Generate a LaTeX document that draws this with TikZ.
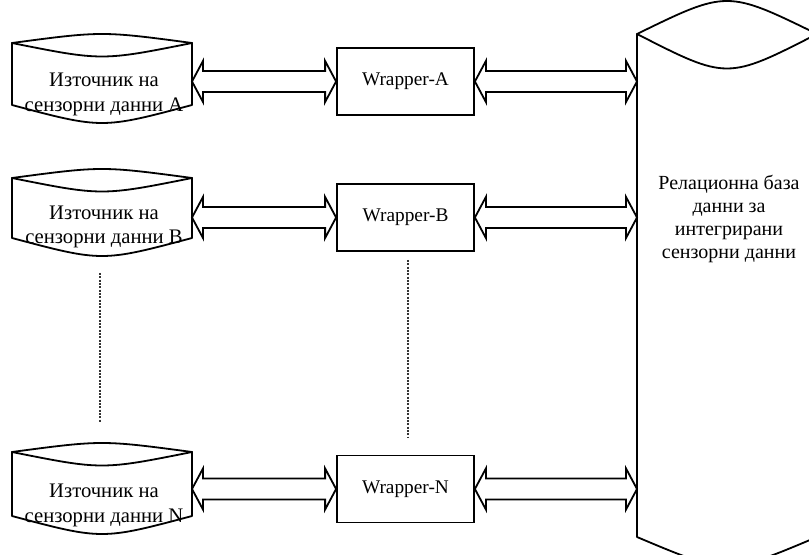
\documentclass[tikz,border=0pt]{standalone}
\usepackage{fontspec}
\setmainfont{Liberation Serif}
\usetikzlibrary{calc}

\tikzset{
  outline/.style={draw=black, line width=1.35pt, line join=miter},
  curveline/.style={draw=black, line width=1.35pt, line join=round, line cap=round},
  wrapbox/.style={outline, fill=white, rectangle, minimum width=102.75pt,
    minimum height=50.25pt, inner sep=0pt, font=\fontsize{14.5pt}{17pt}\selectfont},
  srctext/.style={align=center, inner sep=0pt, font=\fontsize{15.5pt}{18.5pt}\selectfont},
  dbtext/.style={align=center, inner sep=0pt, font=\fontsize{15pt}{17.3pt}\selectfont},
  linkbody/.style={outline, fill=white},
  dotline/.style={draw=black!80, line width=1.2pt, dash pattern=on 1.4pt off 1.1pt}
}

% drum-like data source: lens-shaped top, curved bottom; #1 name, (#2,#3) top-left corner, #4 side height
\newcommand\sourcedrum[4]{%
  \draw[curveline] (#2,#3) .. controls (#2+90,#3-12) .. (#2+180,#3);
  \draw[curveline] (#2,#3) .. controls (#2+90,#3+18) .. (#2+180,#3);
  \draw[curveline] (#2,#3) -- (#2,#3+#4) .. controls (#2+90,#3+#4+24) .. (#2+180,#3+#4) -- (#2+180,#3);
  \coordinate (#1-e) at (#2+180,#3+#4/2);
}

% hollow two-headed arrow between two points on the same level
\newcommand\twowayarrow[2]{%
  \draw[linkbody] let \p1=(#1), \p2=(#2) in
    (\x1,\y1) -- (\x1+8.25pt,\y1+15.4pt) -- (\x1+8.25pt,\y1+7.9pt)
    -- (\x2-8.25pt,\y1+7.9pt) -- (\x2-8.25pt,\y1+15.4pt) -- (\x2,\y1)
    -- (\x2-8.25pt,\y1-15.4pt) -- (\x2-8.25pt,\y1-7.9pt)
    -- (\x1+8.25pt,\y1-7.9pt) -- (\x1+8.25pt,\y1-15.4pt) -- cycle;
}

\begin{document}
\begin{tikzpicture}[x=0.75pt,y=-0.75pt]
  \useasboundingbox (0,0) rectangle (809,555);
  \clip (0,0) rectangle (809,555);

  % data sources
  \sourcedrum{srcA}{12}{43}{62}
  \sourcedrum{srcB}{12}{178}{60}
  \sourcedrum{srcN}{12}{452}{64}
  \node[srctext] (srcA) at (104,94.5) {Източник на\\сензорни данни A};
  \node[srctext] (srcB) at (104,227) {Източник на\\сензорни данни B};
  \node[srctext] (srcN) at (104,505.5) {Източник на\\сензорни данни N};

  % integrated relational database
  \draw[curveline] (637,34) .. controls (727,-10) .. (817,34);
  \draw[curveline] (637,34) .. controls (727,80) .. (817,34);
  \draw[curveline] (637,34) -- (637,537) .. controls (727,575) .. (817,537) -- (817,34);
  \coordinate (db-w) at (637,285);
  \node[dbtext] (db) at (729,219) {Релационна база\\данни за\\интегрирани\\сензорни данни};

  % wrappers
  \node[wrapbox] (wrapA) at (405.5,81.5) {Wrapper-A};
  \node[wrapbox] (wrapB) at (405.5,217.5) {Wrapper-B};
  \node[wrapbox] (wrapN) at (405.5,489) {Wrapper-N};

  % links
  \twowayarrow{srcA-e |- wrapA.west}{wrapA.west}
  \twowayarrow{srcB-e |- wrapB.west}{wrapB.west}
  \twowayarrow{srcN-e |- wrapN.west}{wrapN.west}
  \twowayarrow{wrapA.east}{db-w |- wrapA.east}
  \twowayarrow{wrapB.east}{db-w |- wrapB.east}
  \twowayarrow{wrapN.east}{db-w |- wrapN.east}

  % elided sources and wrappers
  \coordinate (gapL1) at (100,273);
  \coordinate (gapL2) at (100,422);
  \coordinate (gapM1) at (408,260);
  \coordinate (gapM2) at (408,437);
  \draw[dotline] (gapL1) -- (gapL2);
  \draw[dotline] (gapM1) -- (gapM2);
\end{tikzpicture}
\end{document}
